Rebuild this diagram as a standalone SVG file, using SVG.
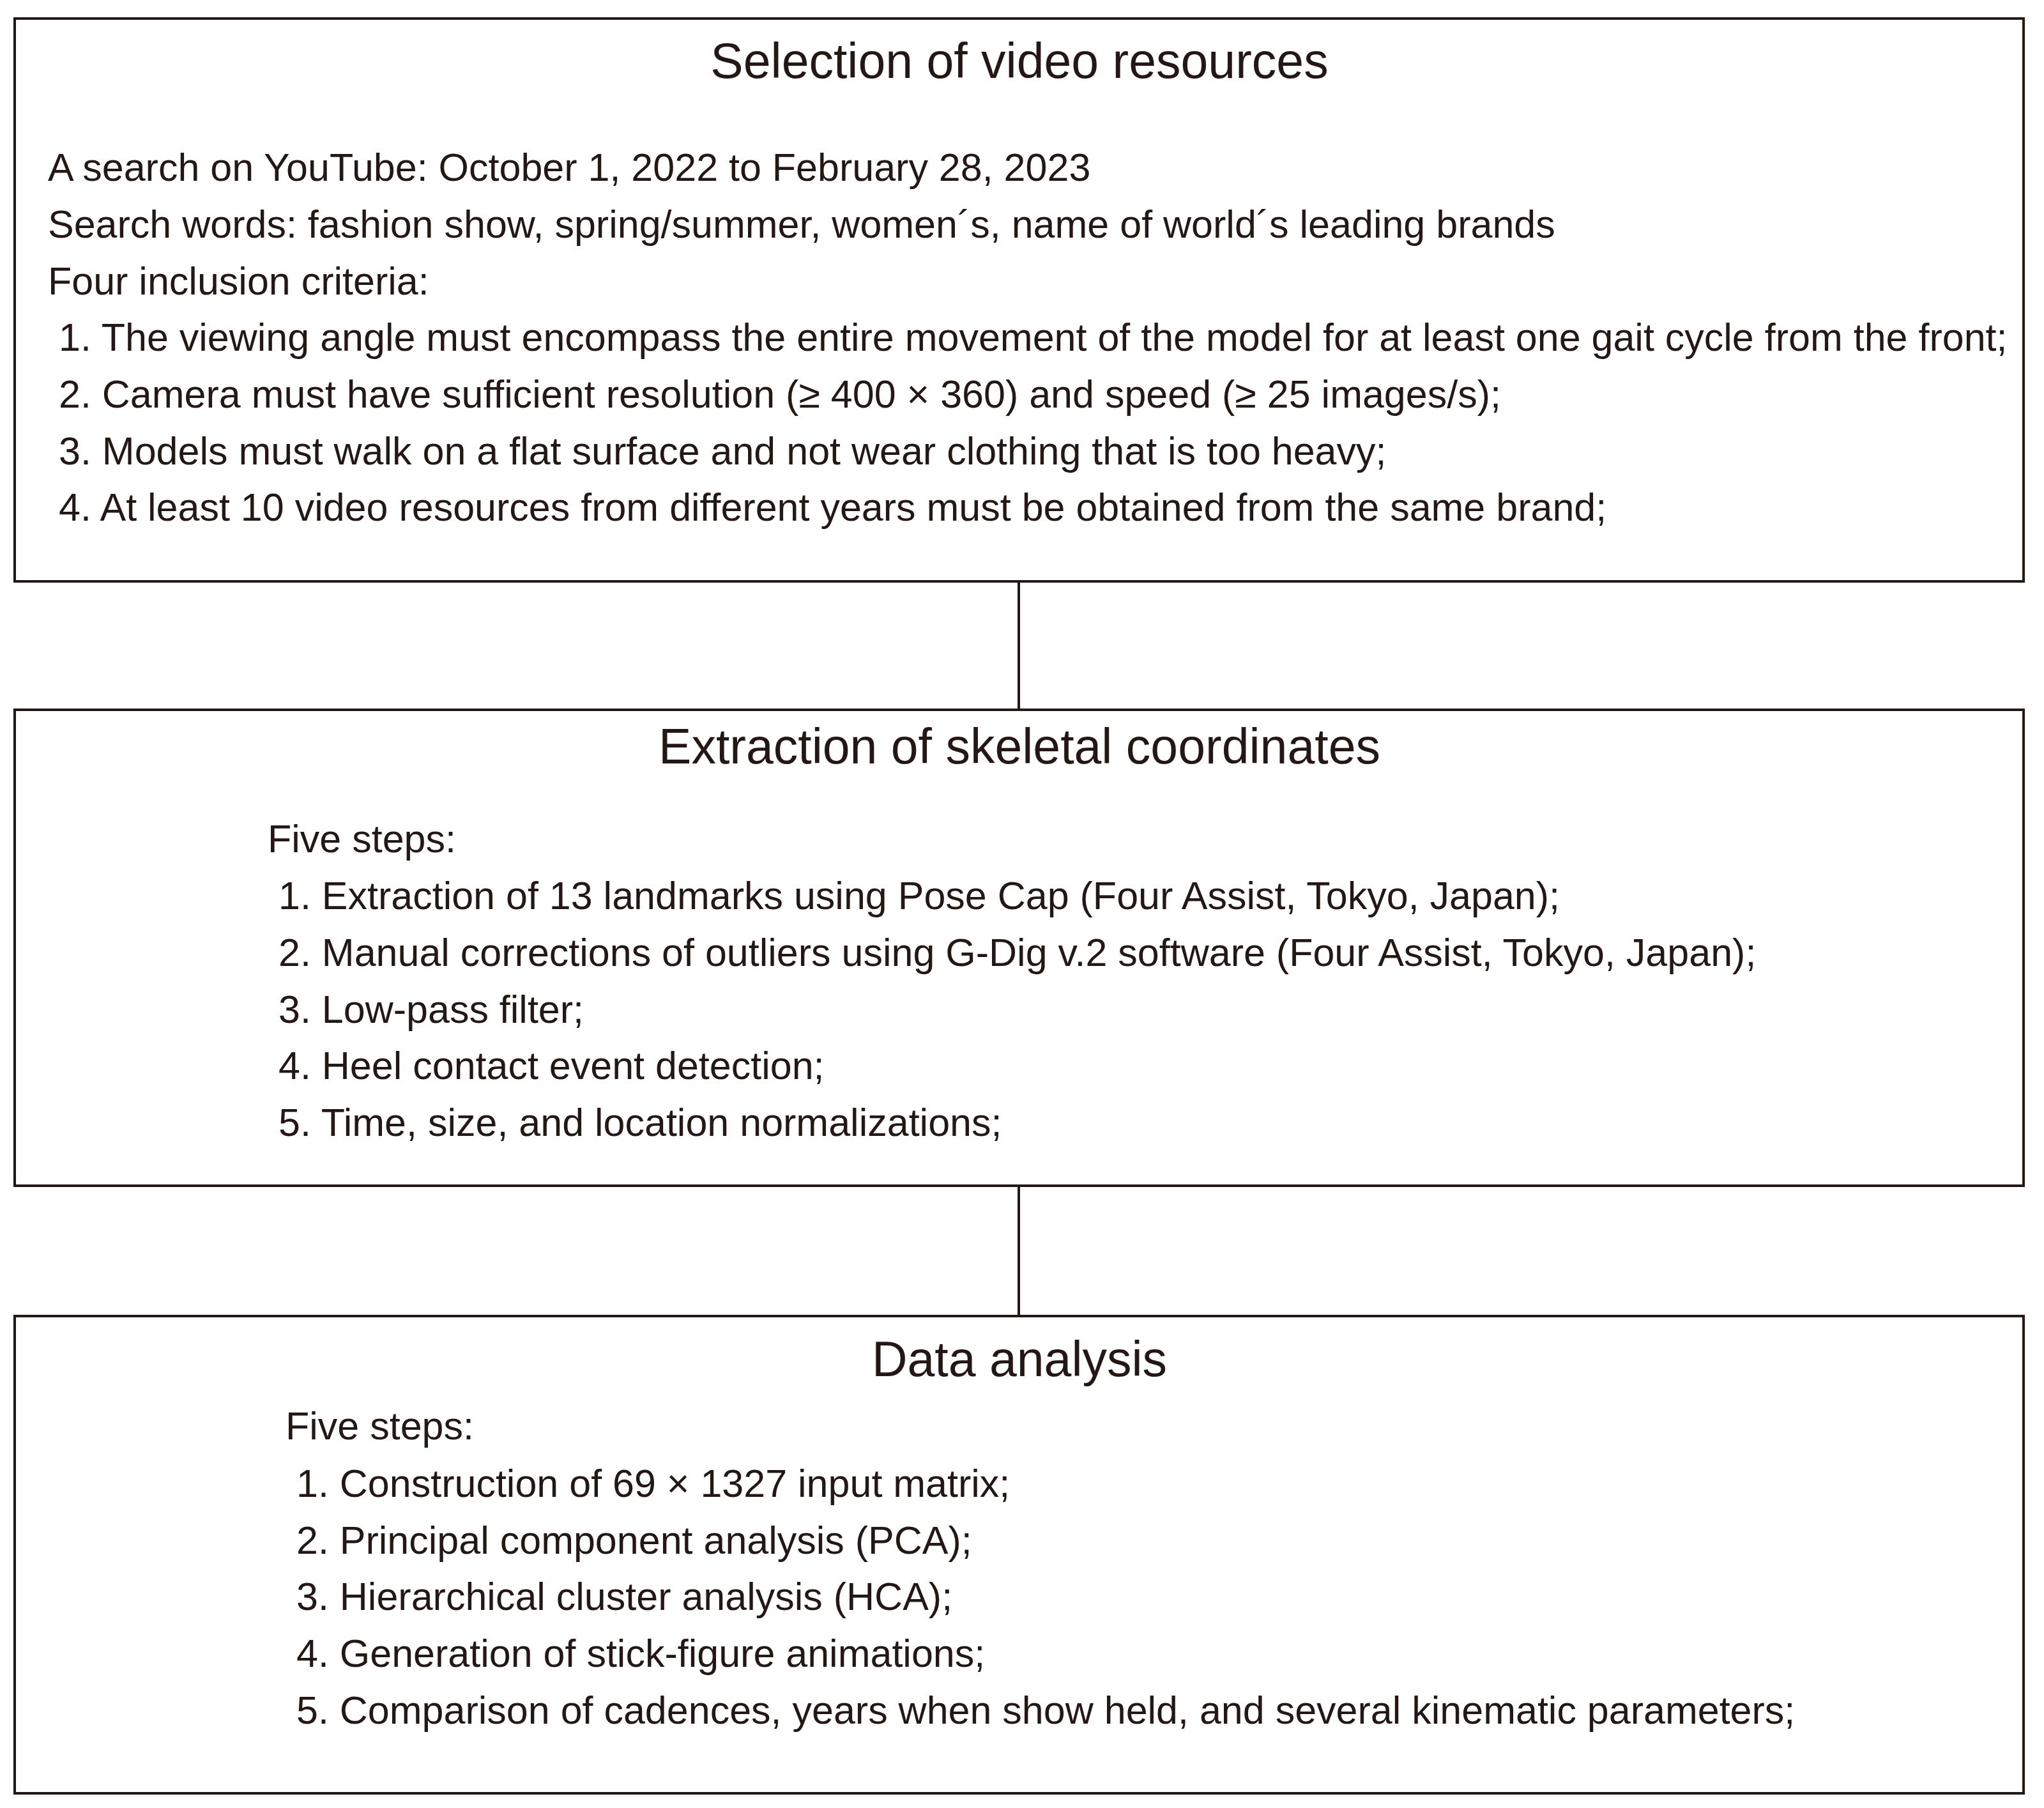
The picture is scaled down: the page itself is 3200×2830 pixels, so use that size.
<svg xmlns="http://www.w3.org/2000/svg" width="3200" height="2830" viewBox="0 0 3200 2830">
<style>
.box{fill:#fff;stroke:#231815;stroke-width:4}
.t{font-family:"Liberation Sans",Arial,sans-serif;font-size:77px;fill:#231815;text-anchor:middle}
.b{font-family:"Liberation Sans",Arial,sans-serif;font-size:61px;fill:#231815}
.c{stroke:#231815;stroke-width:4}
</style>
<rect width="3200" height="2830" fill="#fff"/>
<g id="connectors">
<line class="c" x1="1595" y1="910" x2="1595" y2="1111"/>
<line class="c" x1="1595" y1="1856" x2="1595" y2="2060"/>
</g>
<g id="node1">
<rect class="box" x="23" y="29" width="3145" height="881"/>
<text class="t" x="1596" y="122">Selection of video resources</text>
<text class="b" x="75" y="283">A search on YouTube: October 1, 2022 to February 28, 2023</text>
<text class="b" x="75" y="372">Search words: fashion show, spring/summer, women´s, name of world´s leading brands</text>
<text class="b" x="75" y="461">Four inclusion criteria:</text>
<text class="b" x="92" y="549">1. The viewing angle must encompass the entire movement of the model for at least one gait cycle from the front;</text>
<text class="b" x="92" y="638">2. Camera must have sufficient resolution (≥ 400 × 360) and speed (≥ 25 images/s);</text>
<text class="b" x="92" y="727">3. Models must walk on a flat surface and not wear clothing that is too heavy;</text>
<text class="b" x="92" y="815">4. At least 10 video resources from different years must be obtained from the same brand;</text>
</g>
<g id="node2">
<rect class="box" x="23" y="1111" width="3145" height="745"/>
<text class="t" x="1596" y="1195">Extraction of skeletal coordinates</text>
<text class="b" x="419" y="1334">Five steps:</text>
<text class="b" x="436" y="1423">1. Extraction of 13 landmarks using Pose Cap (Four Assist, Tokyo, Japan);</text>
<text class="b" x="436" y="1512">2. Manual corrections of outliers using G-Dig v.2 software (Four Assist, Tokyo, Japan);</text>
<text class="b" x="436" y="1601">3. Low-pass filter;</text>
<text class="b" x="436" y="1689">4. Heel contact event detection;</text>
<text class="b" x="436" y="1778">5. Time, size, and location normalizations;</text>
</g>
<g id="node3">
<rect class="box" x="23" y="2060" width="3145" height="747"/>
<text class="t" x="1596" y="2154">Data analysis</text>
<text class="b" x="447" y="2253">Five steps:</text>
<text class="b" x="464" y="2343">1. Construction of 69 × 1327 input matrix;</text>
<text class="b" x="464" y="2432">2. Principal component analysis (PCA);</text>
<text class="b" x="464" y="2520">3. Hierarchical cluster analysis (HCA);</text>
<text class="b" x="464" y="2609">4. Generation of stick-figure animations;</text>
<text class="b" x="464" y="2698">5. Comparison of cadences, years when show held, and several kinematic parameters;</text>
</g>
</svg>
